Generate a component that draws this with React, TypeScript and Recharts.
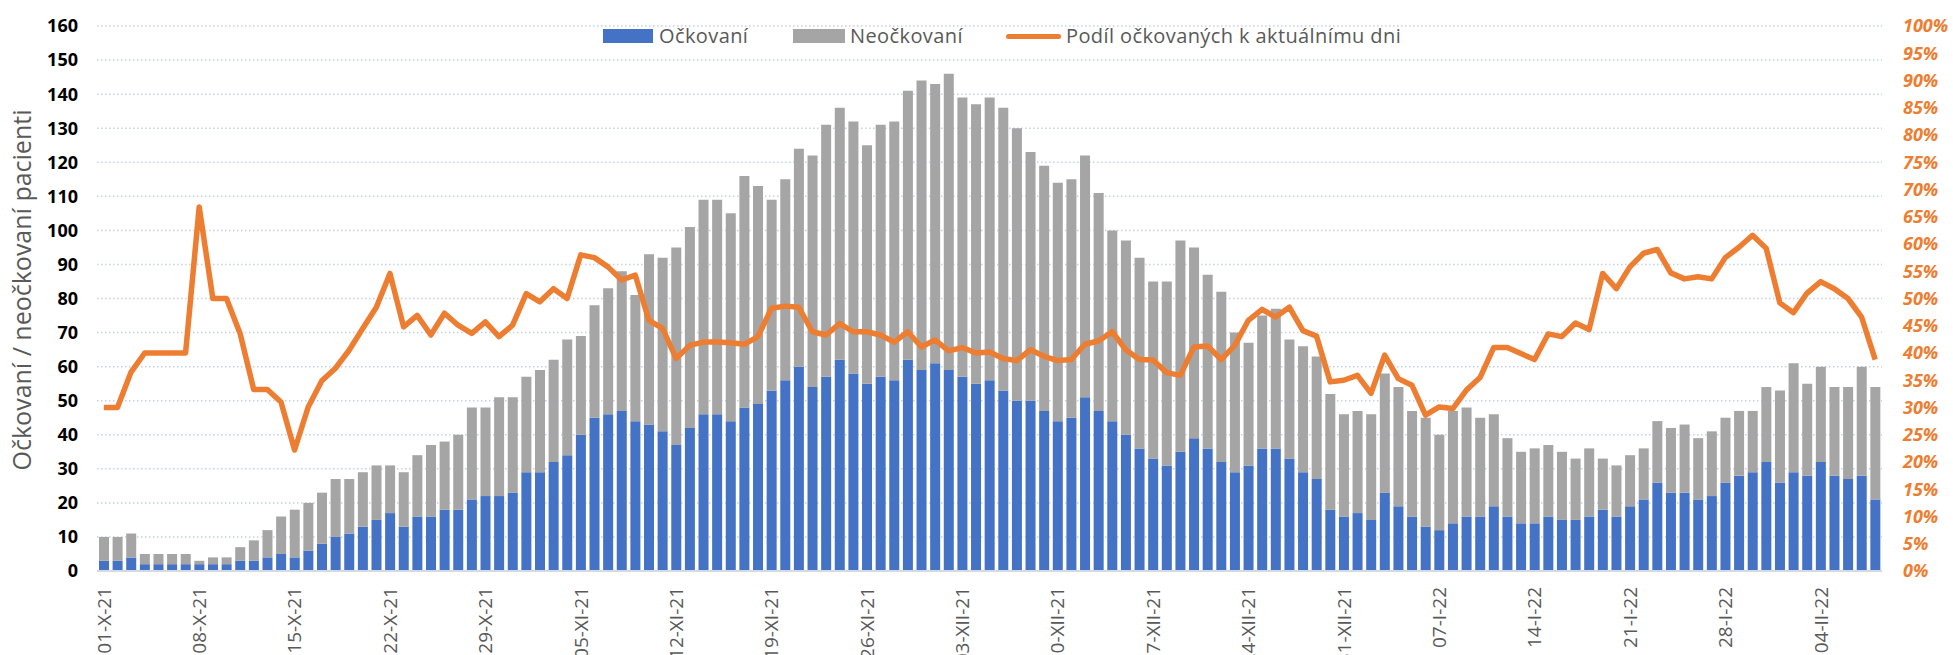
import { ComposedChart, Bar, Line, XAxis, YAxis, CartesianGrid } from 'recharts'

// daily counts, 01-X-21 .. 08-II-22
const ockovani = [
  3, 3, 4, 2, 2, 2, 2, 2, 2, 2, 3, 3, 4, 5, 4, 6, 8, 10, 11, 13, 15, 17, 13, 16, 16, 18, 18, 21, 22, 22,
  23, 29, 29, 32, 34, 40, 45, 46, 47, 44, 43, 41, 37, 42, 46, 46, 44, 48, 49, 53, 56, 60, 54, 57, 62, 58,
  55, 57, 56, 62, 59, 61, 59, 57, 55, 56, 53, 50, 50, 47, 44, 45, 51, 47, 44, 40, 36, 33, 31, 35, 39, 36,
  32, 29, 31, 36, 36, 33, 29, 27, 18, 16, 17, 15, 23, 19, 16, 13, 12, 14, 16, 16, 19, 16, 14, 14, 16, 15,
  15, 16, 18, 16, 19, 21, 26, 23, 23, 21, 22, 26, 28, 29, 32, 26, 29, 28, 32, 28, 27, 28, 21,
]

const neockovani = [
  7, 7, 7, 3, 3, 3, 3, 1, 2, 2, 4, 6, 8, 11, 14, 14, 15, 17, 16, 16, 16, 14, 16, 18, 21, 20, 22, 27, 26, 29,
  28, 28, 30, 30, 34, 29, 33, 37, 41, 37, 50, 51, 58, 59, 63, 63, 61, 68, 64, 56, 59, 64, 68, 74, 74, 74,
  70, 74, 76, 79, 85, 82, 87, 82, 82, 83, 83, 80, 73, 72, 70, 70, 71, 64, 56, 57, 56, 52, 54, 62, 56, 51,
  50, 41, 36, 39, 41, 35, 37, 36, 34, 30, 30, 31, 35, 35, 31, 32, 28, 33, 32, 29, 27, 23, 21, 22, 21, 20,
  18, 20, 15, 15, 15, 15, 18, 19, 20, 18, 19, 19, 19, 18, 22, 27, 32, 27, 28, 26, 27, 32, 33,
]

// podíl očkovaných v %
const podil = [
  30, 30, 36.5, 40, 40, 40, 40, 66.8, 50, 50, 43.6, 33.3, 33.3, 31, 22.2, 30.1, 34.9, 37.2, 40.5, 44.5,
  48.4, 54.6, 44.8, 46.9, 43.3, 47.3, 45.1, 43.6, 45.7, 43, 45.1, 50.9, 49.4, 51.8, 50, 58, 57.5, 55.8,
  53.4, 54.3, 46, 44.5, 39, 41.4, 42, 42, 41.9, 41.6, 43, 48.2, 48.6, 48.4, 43.9, 43.3, 45.4, 43.9, 43.9,
  43.3, 42, 43.9, 41.1, 42.4, 40.4, 41, 40, 40.2, 39, 38.6, 40.6, 39.4, 38.6, 38.8, 41.6, 42.2, 43.9, 40.6,
  38.8, 38.7, 36.4, 35.9, 41.1, 41.3, 38.8, 41.4, 46, 48, 46.6, 48.4, 44.1, 43.1, 34.7, 35, 35.9, 32.6,
  39.6, 35.3, 34.1, 28.6, 30.1, 29.8, 33.2, 35.5, 41, 41, 39.9, 38.8, 43.5, 43, 45.5, 44.3, 54.6, 51.8,
  55.8, 58.3, 59, 54.7, 53.6, 54, 53.6, 57.5, 59.4, 61.6, 59.2, 49.2, 47.4, 51, 53.1, 51.8, 50, 46.6, 38.8,
]

const leftTicks = [0, 10, 20, 30, 40, 50, 60, 70, 80, 90, 100, 110, 120, 130, 140, 150, 160]
const rightTicks = [0, 5, 10, 15, 20, 25, 30, 35, 40, 45, 50, 55, 60, 65, 70, 75, 80, 85, 90, 95, 100]

const romanMonths = ['I', 'II', 'III', 'IV', 'V', 'VI', 'VII', 'VIII', 'IX', 'X', 'XI', 'XII']

// category labels, one per day starting 1 Oct 2021
const dny = ockovani.map((_, i) => {
  const d = new Date(Date.UTC(2021, 9, 1 + i))
  const dd = String(d.getUTCDate()).padStart(2, '0')
  return `${dd}-${romanMonths[d.getUTCMonth()]}-${String(d.getUTCFullYear()).slice(2)}`
})

const data = dny.map((den, i) => ({
  den,
  ockovani: ockovani[i],
  neockovani: neockovani[i],
  podil: podil[i],
}))

const FONT = '"Open Sans", sans-serif'
const GREY_TEXT = '#595959'
const BLUE = '#4472C4'
const GREY = '#A5A5A5'
const ORANGE = '#ED7D31'

const W = 1953
const H = 700

function DateTick(props: any) {
  const { x, payload } = props
  return (
    <g transform={`translate(${x},${571})`}>
      <text
        transform="rotate(-90)"
        x={-16}
        y={0}
        dy="0.36em"
        textAnchor="end"
        fill={GREY_TEXT}
        fontSize={19}
        fontFamily={FONT}
      >
        {payload.value}
      </text>
    </g>
  )
}

function Legend() {
  const text = {
    position: 'absolute' as const,
    top: 22,
    fontFamily: FONT,
    fontSize: 20,
    color: GREY_TEXT,
    lineHeight: '28px',
    letterSpacing: '0.4px',
    whiteSpace: 'nowrap' as const,
  }
  return (
    <>
      <div style={{ position: 'absolute', left: 603, top: 29, width: 50, height: 14, background: BLUE }} />
      <div style={{ ...text, left: 659 }}>Očkovaní</div>
      <div style={{ position: 'absolute', left: 793, top: 29, width: 52, height: 14, background: GREY }} />
      <div style={{ ...text, left: 850 }}>Neočkovaní</div>
      <div style={{ position: 'absolute', left: 1006, top: 33.5, width: 55, height: 5, borderRadius: 3, background: ORANGE }} />
      <div style={{ ...text, left: 1066 }}>Podíl očkovaných k aktuálnímu dni</div>
    </>
  )
}

export default function App() {
  return (
    <div style={{ position: 'absolute', left: 0, top: 0, width: W, height: 655, overflow: 'hidden', background: '#fff' }}>
      <ComposedChart
        width={W}
        height={H}
        data={data}
        margin={{ top: 26, right: 0, left: 0, bottom: 0 }}
        barCategoryGap="14.5%"
      >
        <CartesianGrid
          yAxisId="left"
          vertical={false}
          stroke="#C3D1EB"
          strokeWidth={1.5}
          strokeDasharray="1.5 2.5"
        />
        <XAxis
          dataKey="den"
          interval={6}
          height={129}
          tickLine={false}
          axisLine={{ stroke: '#D3DAE6', strokeWidth: 2 }}
          tick={<DateTick />}
        />
        <YAxis
          yAxisId="left"
          width={97}
          domain={[0, 160]}
          ticks={leftTicks}
          axisLine={false}
          tickLine={false}
          tickSize={0}
          tickMargin={19}
          tick={{ fill: '#000', fontSize: 18, fontWeight: 700, fontFamily: FONT }}
        />
        <YAxis
          yAxisId="right"
          orientation="right"
          width={71}
          domain={[0, 100]}
          ticks={rightTicks}
          tickFormatter={(v: number) => `${v}%`}
          axisLine={false}
          tickLine={false}
          tickSize={0}
          tickMargin={21}
          tick={{ fill: ORANGE, fontSize: 18, fontWeight: 700, fontStyle: 'italic', fontFamily: FONT }}
        />
        <Bar yAxisId="left" dataKey="ockovani" stackId="a" fill={BLUE} isAnimationActive={false} />
        <Bar yAxisId="left" dataKey="neockovani" stackId="a" fill={GREY} isAnimationActive={false} />
        <Line
          yAxisId="right"
          type="linear"
          dataKey="podil"
          stroke={ORANGE}
          strokeWidth={5.5}
          strokeLinejoin="round"
          dot={false}
          activeDot={false}
          isAnimationActive={false}
        />
      </ComposedChart>
      <svg style={{ position: 'absolute', left: 0, top: 0 }} width={60} height={600}>
        <text
          transform="translate(22,290) rotate(-90)"
          textAnchor="middle"
          dy="0.36em"
          fill={GREY_TEXT}
          fontSize={25}
          fontFamily={FONT}
        >
          Očkovaní / neočkovaní pacienti
        </text>
      </svg>
      <Legend />
    </div>
  )
}
